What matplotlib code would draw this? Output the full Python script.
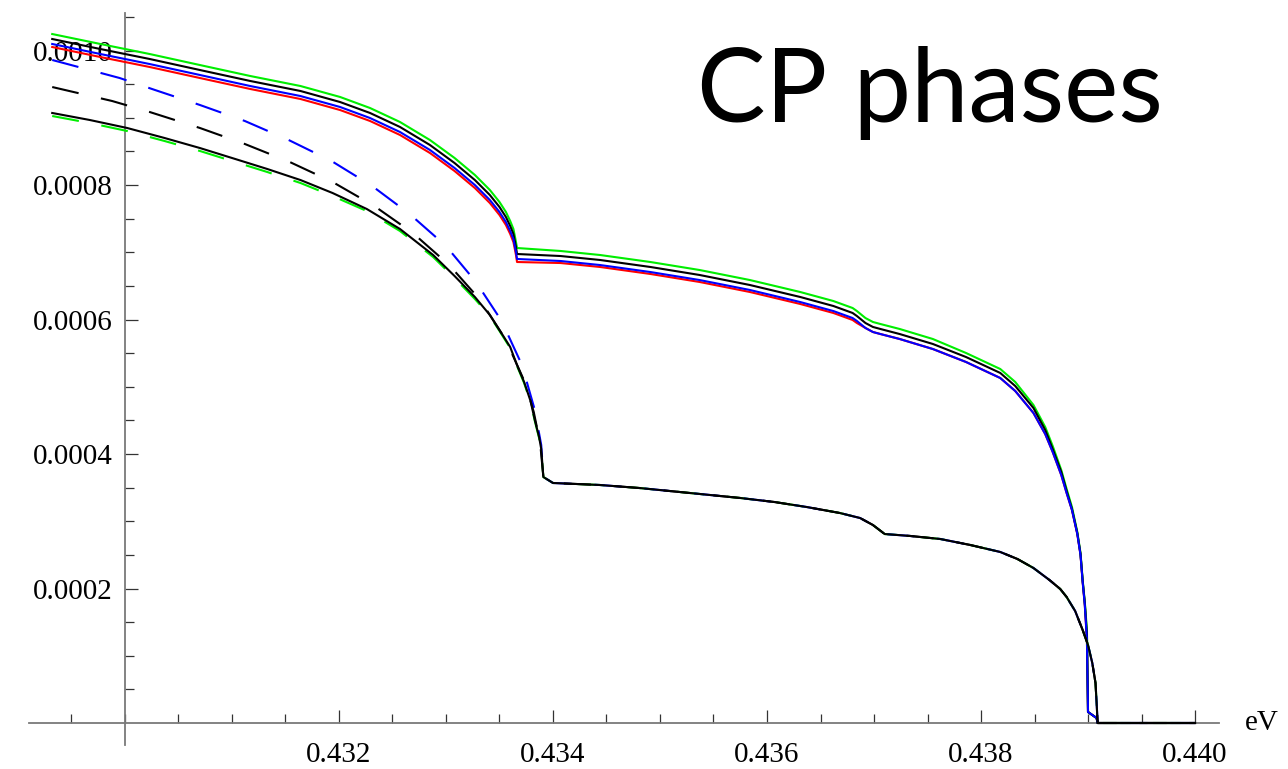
import numpy as np
import matplotlib
matplotlib.use("Agg")
import matplotlib.pyplot as plt
from matplotlib.ticker import FixedLocator, FormatStrFormatter

# energies (eV) where the upper four solid curves were read
up_x = [0.42932, 0.42977, 0.43023, 0.43070, 0.43117, 0.43164, 0.43201, 0.43229,
        0.43257, 0.43285, 0.43308, 0.43327, 0.43341, 0.43350, 0.43356, 0.43360,
        0.43363, 0.433645, 0.433654, 0.433664,
        0.43407, 0.43444, 0.43491, 0.43537, 0.43584, 0.43631, 0.43662, 0.43680,
        0.43684, 0.43692, 0.43699, 0.43706, 0.43724, 0.43755, 0.43786, 0.43818,
        0.43832, 0.43849, 0.43860, 0.43867, 0.43875, 0.43880, 0.43885, 0.43890,
        0.43893, 0.43895, 0.43897, 0.43899, 0.43900, 0.43908, 0.43909, 0.44000]

# values in units of 1e-4
green_up = [10.245, 10.097, 9.948, 9.784, 9.621, 9.472, 9.309, 9.145, 8.937, 8.669,
            8.402, 8.149, 7.926, 7.747, 7.599, 7.465, 7.346, 7.227, 7.152, 7.063,
            7.019, 6.959, 6.855, 6.736, 6.587, 6.409, 6.275, 6.171, 6.126, 6.022,
            5.963, 5.933, 5.859, 5.710, 5.502, 5.264, 5.071, 4.729, 4.402, 4.119,
            3.762, 3.480, 3.212, 2.840, 2.528, 2.126, 1.799, 1.383, 0.164, 0.074, 0, 0]
black_up = [10.171, 10.022, 9.874, 9.710, 9.547, 9.398, 9.234, 9.071, 8.863, 8.595,
            8.327, 8.074, 7.851, 7.673, 7.524, 7.390, 7.272, 7.152, 7.078, 6.974,
            6.944, 6.885, 6.781, 6.662, 6.513, 6.335, 6.201, 6.097, 6.052, 5.948,
            5.889, 5.859, 5.784, 5.636, 5.442, 5.205, 5.011, 4.684, 4.357, 4.074,
            3.732, 3.450, 3.182, 2.825, 2.513, 2.112, 1.784, 1.309, 0.164, 0.074, 0, 0]
blue_up = [10.097, 9.948, 9.799, 9.636, 9.472, 9.323, 9.160, 8.996, 8.788, 8.521,
           8.253, 8.000, 7.777, 7.599, 7.450, 7.316, 7.197, 7.078, 7.004, 6.900,
           6.870, 6.810, 6.706, 6.587, 6.439, 6.260, 6.126, 6.022, 5.978, 5.874,
           5.814, 5.784, 5.710, 5.561, 5.368, 5.130, 4.937, 4.610, 4.297, 4.030,
           3.688, 3.420, 3.167, 2.810, 2.498, 2.097, 1.755, 1.234, 0.164, 0.074, 0, 0]
red_up = [10.052, 9.903, 9.755, 9.591, 9.428, 9.279, 9.115, 8.952, 8.744, 8.476,
          8.208, 7.955, 7.732, 7.554, 7.405, 7.272, 7.152, 7.034, 6.959, 6.855,
          6.840, 6.781, 6.677, 6.558, 6.409, 6.231, 6.097, 5.993, 5.948, 5.874,
          5.814, 5.784, 5.710, 5.561, 5.368, 5.130, 4.937, 4.610, 4.297, 4.030,
          3.688, 3.420, 3.167, 2.810, 2.498, 2.097, 1.755, 1.234, 0.164, 0.074, 0, 0]

# lower group, part before the threshold at 0.43391 eV
low_x = [0.42932, 0.42967, 0.43002, 0.43037, 0.43070, 0.43103, 0.43133, 0.43164,
         0.43194, 0.43226, 0.43257, 0.43288, 0.43308, 0.43327, 0.43341, 0.43350,
         0.43360, 0.43366, 0.43373, 0.43379, 0.43383, 0.43387, 0.43389]
black_low = [9.071, 8.967, 8.848, 8.699, 8.550, 8.387, 8.238, 8.074, 7.881, 7.643,
             7.346, 6.959, 6.647, 6.335, 6.067, 5.844, 5.591, 5.338, 5.071, 4.788,
             4.506, 4.253, 4.074]
green_dash = [9.026, 8.922, 8.803, 8.654, 8.506, 8.342, 8.193, 8.030, 7.836, 7.613,
              7.316, 6.929, 6.617, 6.305, 6.052, 5.829, 5.576, 5.323, 5.056, 4.773,
              4.491, 4.238, 4.060]
kdash_x = [0.42932, 0.42988, 0.43023, 0.43070, 0.43112, 0.43154, 0.43194, 0.43233,
           0.43269, 0.43303, 0.43332, 0.43356, 0.43374, 0.43382, 0.43388]
kdash_y = [9.457, 9.249, 9.086, 8.848, 8.610, 8.342, 8.045, 7.688, 7.286, 6.810,
           6.290, 5.695, 5.056, 4.625, 4.164]
bdash_x = [0.42932, 0.42995, 0.43028, 0.43070, 0.43112, 0.43153, 0.43193, 0.43231,
           0.43266, 0.43300, 0.43328, 0.43352, 0.43371, 0.43383, 0.43389]
bdash_y = [9.859, 9.591, 9.413, 9.190, 8.952, 8.669, 8.357, 7.985, 7.569, 7.093,
           6.558, 5.978, 5.323, 4.654, 4.134]

# all lower curves share this part after the threshold
tail_x = [0.43391, 0.43400, 0.43444, 0.43481, 0.43528, 0.43575, 0.43607, 0.43637,
          0.43668, 0.43687, 0.43699, 0.43710, 0.43734, 0.43762, 0.43790, 0.43818,
          0.43834, 0.43849, 0.43864, 0.43874, 0.43880, 0.43888, 0.43895, 0.43900,
          0.43904, 0.43907, 0.43908, 0.43909, 0.44000]
tail_y = [3.658, 3.569, 3.539, 3.494, 3.420, 3.346, 3.286, 3.212, 3.123, 3.048,
          2.944, 2.810, 2.781, 2.736, 2.647, 2.543, 2.439, 2.305, 2.126, 1.993,
          1.874, 1.665, 1.383, 1.160, 0.892, 0.595, 0.312, 0, 0]

x_ticks = [0.432, 0.434, 0.436, 0.438, 0.440]
y_ticks = [0.0002, 0.0004, 0.0006, 0.0008, 0.0010]

scale = 1e-4

plt.rcParams['font.family'] = ['Liberation Serif', 'DejaVu Serif']

fig = plt.figure(figsize=(12.88, 7.69), dpi=100)
ax = fig.add_axes([0, 0, 1, 1])
ax.set_xlim(0.428832, 0.440869)
ax.set_ylim(-6.84e-5, 1.0751e-3)

lw = 1.5
dash = (13, 11)
ax.plot(up_x, np.array(red_up) * scale, color='#ff0000', lw=lw, zorder=3)
ax.plot(up_x, np.array(green_up) * scale, color='#00ee00', lw=lw, zorder=3)
ax.plot(up_x, np.array(black_up) * scale, color='black', lw=lw, zorder=3)
ax.plot(up_x, np.array(blue_up) * scale, color='#0000ff', lw=lw, zorder=3)

ax.plot(low_x + tail_x, np.array(green_dash + tail_y) * scale, color='#00ee00', lw=lw,
        dashes=dash, zorder=3)
ax.plot(bdash_x + tail_x, np.array(bdash_y + tail_y) * scale, color='#0000ff', lw=lw,
        dashes=dash, zorder=3)
ax.plot(kdash_x + tail_x, np.array(kdash_y + tail_y) * scale, color='black', lw=lw,
        dashes=dash, zorder=3)
ax.plot(low_x + tail_x, np.array(black_low + tail_y) * scale, color='black', lw=lw,
        zorder=3)

# Mathematica style axes crossing at (0.430, 0)
for s in ['top', 'right']:
    ax.spines[s].set_visible(False)
ax.spines['left'].set_position(('data', 0.430))
ax.spines['bottom'].set_position(('data', 0))
ax.spines['left'].set_bounds(-3.3e-5, 1.056e-3)
ax.spines['bottom'].set_bounds(0.42910, 0.44022)
for s in ['left', 'bottom']:
    ax.spines[s].set_color('#7a7a7a')
    ax.spines[s].set_linewidth(1.3)

ax.set_xticks(x_ticks)
ax.set_yticks(y_ticks)
ax.xaxis.set_major_formatter(FormatStrFormatter('%.3f'))
ax.yaxis.set_major_formatter(FormatStrFormatter('%.4f'))
ax.xaxis.set_minor_locator(FixedLocator(np.arange(0.4295, 0.44001, 0.0005)))
ax.yaxis.set_minor_locator(FixedLocator(np.arange(0.00005, 0.00106, 0.00005)))
ax.tick_params(which='both', direction='in', color='#333333', width=0.9,
               labelsize=21, labelcolor='black')
ax.tick_params(which='major', length=9.5)
ax.tick_params(which='minor', length=6.3)
ax.tick_params(axis='x', which='major', pad=14)
ax.tick_params(axis='y', which='major', pad=9)

ax.text(0.44047, 0, 'eV', fontsize=21, ha='left', va='center')
ax.text(0.541, 0.841, 'CP phases', transform=ax.transAxes, fontsize=74,
        family='Lato', ha='left', va='baseline')

fig.savefig('out.png', dpi=100)
